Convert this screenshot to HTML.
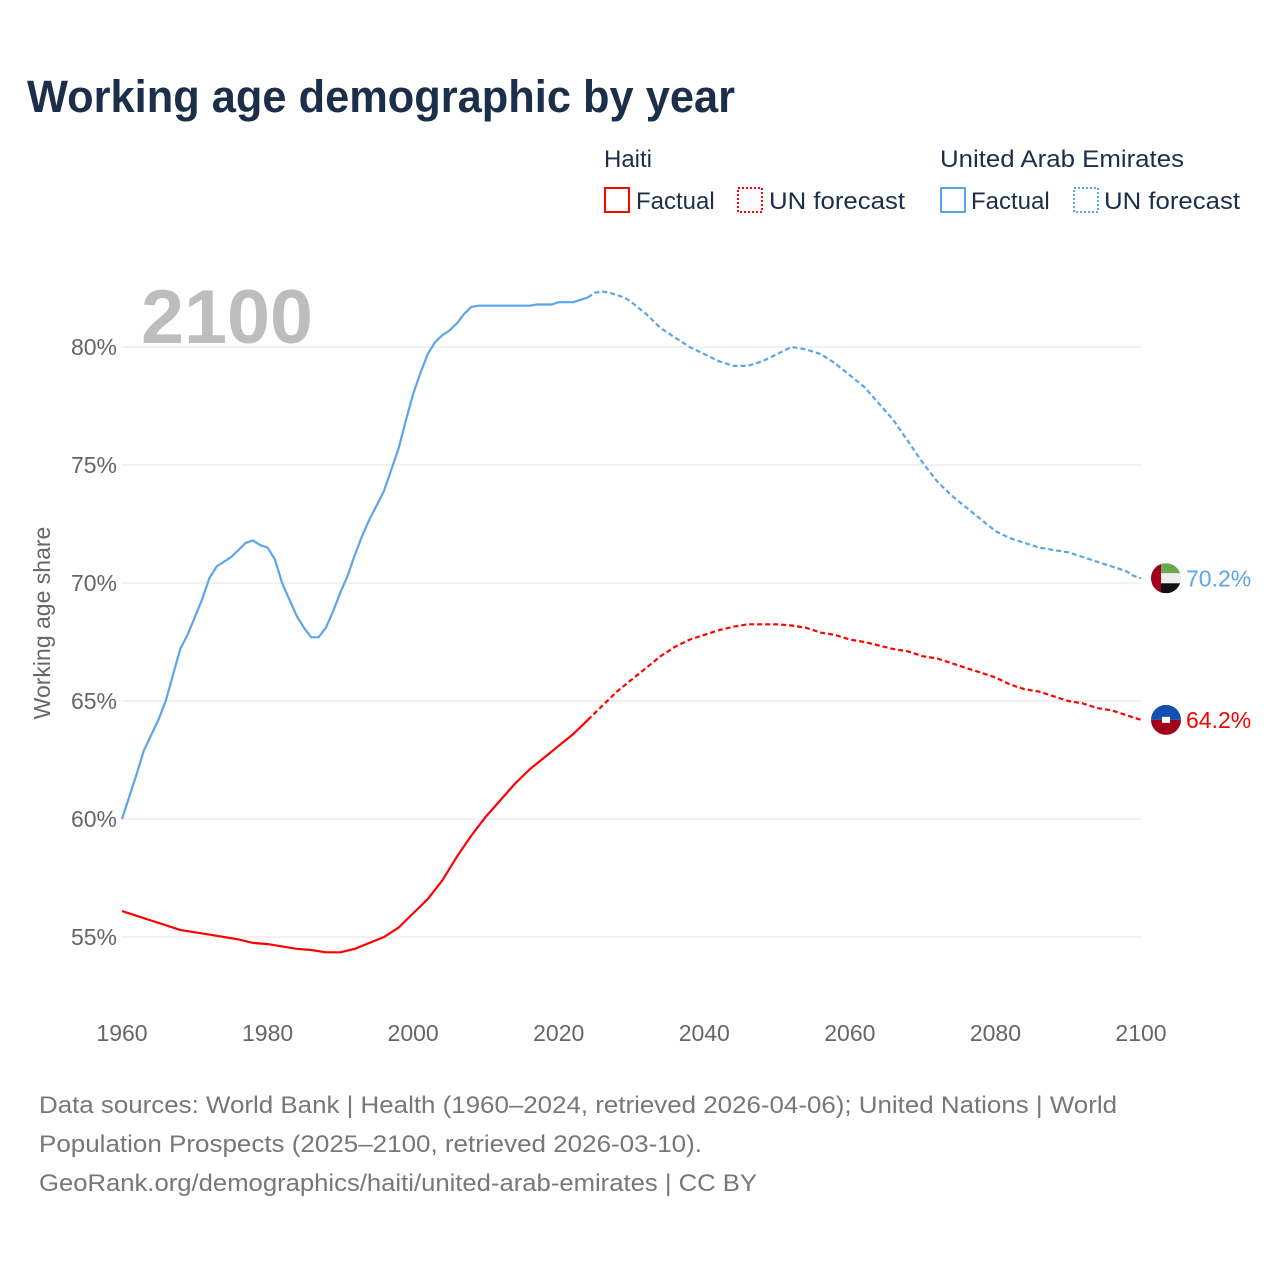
<!DOCTYPE html>
<html><head><meta charset="utf-8">
<style>
body{margin:0;background:#fff;font-family:"Liberation Sans",sans-serif;}
svg text{font-family:"Liberation Sans",sans-serif;}
</style></head>
<body>
<svg id="chart" width="1280" height="1280" xmlns="http://www.w3.org/2000/svg">
<rect width="1280" height="1280" fill="#fff"/>
<text x="27" y="112" font-size="45" font-weight="bold" fill="#1b2f4b" textLength="708" lengthAdjust="spacingAndGlyphs">Working age demographic by year</text>
<g>
<text x="604" y="167" font-size="24" fill="#1b2f4b">Haiti</text>
<g><rect x="605" y="188" width="24" height="24" fill="none" stroke="#f00" stroke-width="2"/><text x="636" y="209" font-size="24" fill="#1b2f4b">Factual</text></g>
<g><rect x="738" y="188" width="24" height="24" fill="none" stroke="#f00" stroke-width="2" stroke-dasharray="2,2"/><text x="769" y="209" font-size="24" fill="#1b2f4b" textLength="136" lengthAdjust="spacingAndGlyphs">UN forecast</text></g>
<text x="940" y="167" font-size="24" fill="#1b2f4b" textLength="244" lengthAdjust="spacingAndGlyphs">United Arab Emirates</text>
<g><rect x="941" y="188" width="24" height="24" fill="none" stroke="#5ba5ea" stroke-width="2"/><text x="971" y="209" font-size="24" fill="#1b2f4b">Factual</text></g>
<g><rect x="1074" y="188" width="24" height="24" fill="none" stroke="#5ba5ea" stroke-width="2" stroke-dasharray="2,2"/><text x="1104" y="209" font-size="24" fill="#1b2f4b" textLength="136" lengthAdjust="spacingAndGlyphs">UN forecast</text></g>
</g>
<text x="141" y="343" font-size="76" font-weight="bold" fill="#bdbdbd" textLength="172" lengthAdjust="spacingAndGlyphs">2100</text>
<text transform="translate(50,623) rotate(-90)" text-anchor="middle" font-size="23" fill="#666">Working age share</text>
<g id="grid"></g><g id="series"></g><g id="ends"></g>
<g font-size="24" fill="#777">
<text x="39" y="1113" textLength="1078" lengthAdjust="spacingAndGlyphs">Data sources: World Bank | Health (1960–2024, retrieved 2026-04-06); United Nations | World</text>
<text x="39" y="1152" textLength="663" lengthAdjust="spacingAndGlyphs">Population Prospects (2025–2100, retrieved 2026-03-10).</text>
<text x="39" y="1191" textLength="718" lengthAdjust="spacingAndGlyphs">GeoRank.org/demographics/haiti/united-arab-emirates | CC BY</text>
</g>
</svg>
<script>
const yTicks=[55,60,65,70,75,80];
const xTicks=[1960,1980,2000,2020,2040,2060,2080,2100];
const lastFactualYear=2024;
const uaeYears=[1960,1962,1963,1965,1966,1968,1969,1971,1972,1973,1975,1976,1977,1978,1979,1980,1981,1982,1983,1984,1985,1986,1987,1988,1989,1990,1991,1992,1993,1994,1995,1996,1997,1998,1999,2000,2001,2002,2003,2004,2005,2006,2007,2008,2009,2016,2017,2019,2020,2022,2024,2025,2026,2027,2028,2029,2030,2032,2034,2036,2038,2040,2042,2044,2046,2048,2050,2052,2054,2056,2058,2060,2062,2064,2066,2068,2070,2072,2074,2076,2078,2080,2082,2084,2086,2088,2090,2092,2094,2096,2098,2099,2100];
const uaeValues=[60.0,61.9,62.9,64.2,65.0,67.2,67.8,69.3,70.2,70.7,71.1,71.4,71.7,71.8,71.6,71.5,71.0,70.0,69.3,68.6,68.1,67.7,67.7,68.1,68.8,69.6,70.3,71.2,72.0,72.7,73.3,73.9,74.8,75.7,76.9,78.0,78.9,79.7,80.2,80.5,80.7,81.0,81.4,81.7,81.75,81.75,81.8,81.8,81.9,81.9,82.1,82.3,82.35,82.3,82.2,82.1,81.9,81.4,80.8,80.4,80.0,79.7,79.4,79.2,79.2,79.4,79.7,80.0,79.9,79.7,79.3,78.8,78.3,77.6,76.9,76.0,75.1,74.3,73.7,73.2,72.7,72.2,71.9,71.7,71.5,71.4,71.3,71.1,70.9,70.7,70.5,70.3,70.2];
const haitiYears=[1960,1962,1964,1966,1968,1970,1972,1974,1976,1978,1980,1982,1984,1986,1988,1990,1992,1994,1996,1998,2000,2002,2004,2006,2008,2010,2012,2014,2016,2018,2020,2022,2024,2026,2028,2030,2032,2034,2036,2038,2040,2042,2044,2046,2048,2050,2052,2054,2056,2058,2060,2062,2064,2066,2068,2070,2072,2074,2076,2078,2080,2082,2084,2086,2088,2090,2092,2094,2096,2098,2100];
const haitiValues=[56.1,55.9,55.7,55.5,55.3,55.2,55.1,55.0,54.9,54.75,54.7,54.6,54.5,54.45,54.35,54.35,54.5,54.75,55.0,55.4,56.0,56.6,57.4,58.4,59.3,60.1,60.8,61.5,62.1,62.6,63.1,63.6,64.2,64.8,65.4,65.9,66.4,66.9,67.3,67.6,67.8,68.0,68.15,68.25,68.25,68.25,68.2,68.1,67.9,67.8,67.6,67.5,67.35,67.2,67.1,66.9,66.8,66.6,66.4,66.2,66.0,65.7,65.5,65.4,65.2,65.0,64.9,64.7,64.6,64.4,64.2];
const X=y=>122+(y-1960)*(1141-122)/140;
const Y=v=>347+(80-v)*23.6;
const NS="http://www.w3.org/2000/svg";
function mk(tag,attrs,parent){const e=document.createElementNS(NS,tag);for(const k in attrs)e.setAttribute(k,attrs[k]);parent.appendChild(e);return e;}
const grid=document.getElementById('grid');
yTicks.forEach(t=>{
 const l=mk('line',{x1:122,x2:1141,y1:Y(t),y2:Y(t),stroke:'#e6e6e6','stroke-width':1},grid);
 
 
 const tx=mk('text',{x:117,y:Y(t)+8,'text-anchor':'end','font-size':23,fill:'#666'},grid);tx.textContent=t+'%';
 
 
});
xTicks.forEach(t=>{
 const tx=mk('text',{x:X(t),y:1041,'text-anchor':'middle','font-size':23,fill:'#666'},grid);tx.textContent=t;
 
 
});
const ser=document.getElementById('series');
function draw(years,vals,color,name){
 const f=[],p=[];
 years.forEach((y,i)=>{const pt=X(y).toFixed(1)+','+Y(vals[i]).toFixed(1);if(y<=lastFactualYear)f.push(pt);if(y>=lastFactualYear)p.push(pt);});
 const a=mk('polyline',{points:f.join(' '),fill:'none',stroke:color,'stroke-width':2.2},ser);
 
 
 const b=mk('polyline',{points:p.join(' '),fill:'none',stroke:color,'stroke-width':2.2,'stroke-dasharray':'5,3'},ser);
 
 
}
draw(uaeYears,uaeValues,'#5ba5ea','uae');
draw(haitiYears,haitiValues,'#f00','haiti');
const ends=document.getElementById('ends');
function endLabel(v,color,name,flag){
 const cy=Y(v);
 const g=mk('g',{},ends);
 
 
 g.innerHTML=flag(1166,cy);
 const t=mk('text',{x:1186,y:cy+8,'font-size':23,fill:color},ends);t.textContent=v.toFixed(1)+'%';
 
 
}
endLabel(uaeValues[uaeValues.length-1],'#5ba5ea','uae',(cx,cy)=>`<clipPath id="cu"><circle cx="${cx}" cy="${cy}" r="15"/></clipPath><g clip-path="url(#cu)"><rect x="${cx-15}" y="${cy-15}" width="30" height="10" fill="#6aa84f"/><rect x="${cx-15}" y="${cy-5}" width="30" height="10" fill="#eee"/><rect x="${cx-15}" y="${cy+5}" width="30" height="10" fill="#111"/><rect x="${cx-15}" y="${cy-15}" width="10" height="30" fill="#a0001c"/></g>`);
endLabel(haitiValues[haitiValues.length-1],'#f00','haiti',(cx,cy)=>`<clipPath id="ch"><circle cx="${cx}" cy="${cy}" r="15"/></clipPath><g clip-path="url(#ch)"><rect x="${cx-15}" y="${cy-15}" width="30" height="15" fill="#1450b4"/><rect x="${cx-15}" y="${cy}" width="30" height="15" fill="#a0001c"/><rect x="${cx-4}" y="${cy-3}" width="8" height="6" fill="#fff"/></g>`);
</script>
</body></html>
